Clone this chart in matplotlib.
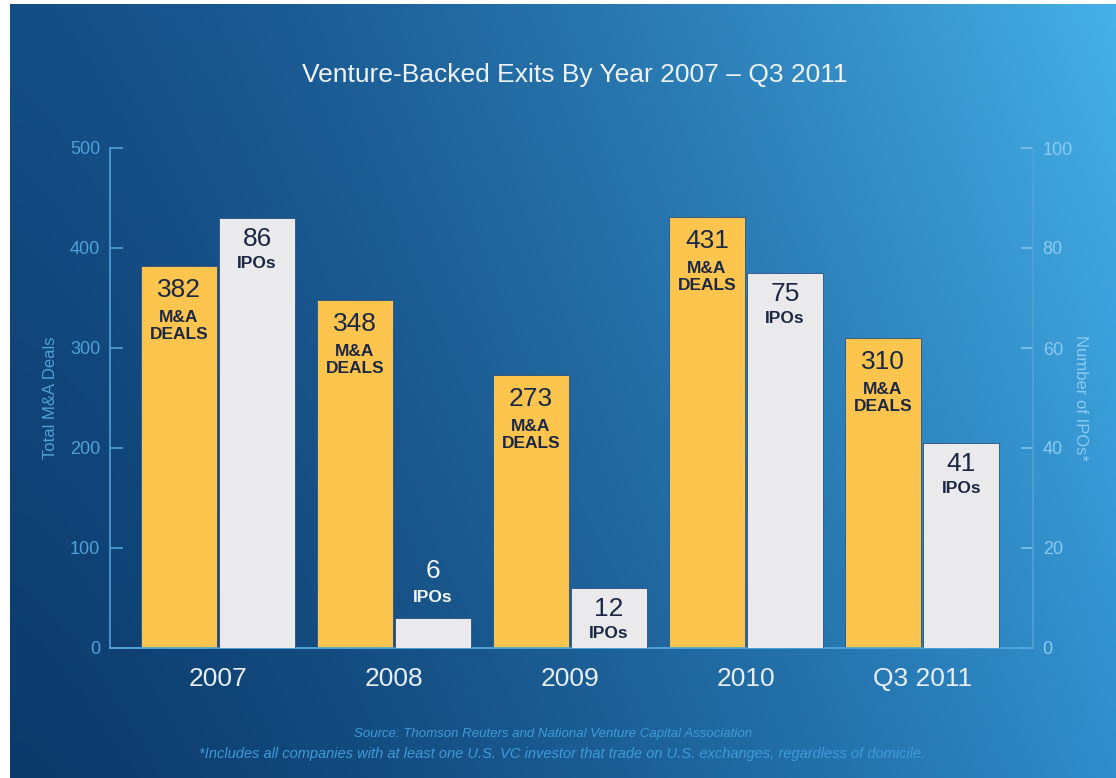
import numpy as np
import matplotlib
matplotlib.use("Agg")
import matplotlib.pyplot as plt
from matplotlib.colors import to_rgb

plt.rcParams['font.family'] = ['Liberation Sans', 'DejaVu Sans']

# data
years = ['2007', '2008', '2009', '2010', 'Q3 2011']
mna_deals = [382, 348, 273, 431, 310]
ipos = [86, 6, 12, 75, 41]

yellow = '#FDC54E'
grey = '#EAEAEC'
dark_txt = '#1C2843'
axis_col = '#4FA2D8'

fig = plt.figure(figsize=(11.16, 7.78), dpi=100)

# background gradient (dark navy at left/bottom, light blue at top right)
bg = fig.add_axes([10 / 1116, 0, 1 - 10 / 1116, 1 - 4 / 778])
bg.set_axis_off()
nx, ny = 400, 200
gx = np.linspace(0, 1, nx) ** 1.4
gy = np.linspace(0, 1, ny)[:, None]
tl, tr = np.array(to_rgb('#154E87')), np.array(to_rgb('#46B0E8'))
bl, br = np.array(to_rgb('#0C3A6B')), np.array(to_rgb('#2F8DCB'))
top = tl[None, :] * (1 - gx[:, None]) + tr[None, :] * gx[:, None]
bot = bl[None, :] * (1 - gx[:, None]) + br[None, :] * gx[:, None]
img = top[None, :, :] * (1 - gy[..., None]) + bot[None, :, :] * gy[..., None]
bg.imshow(img, aspect='auto', extent=[0, 1, 0, 1], origin='upper')

ax = fig.add_axes([110 / 1116, 1 - 648 / 778, 923 / 1116, 500 / 778])
ax.set_facecolor('none')
ax2 = ax.twinx()
ax2.set_facecolor('none')

x = np.arange(len(years))
w = 0.435
off = 0.222
ax.bar(x - off, mna_deals, w, color=yellow, edgecolor='#2A4F7A', linewidth=0.6, zorder=3)
ax2.bar(x + off, ipos, w, color=grey, edgecolor='#2A4F7A', linewidth=0.6, zorder=3)

ax.set_xlim(-0.614, 4.63)
ax.set_ylim(0, 500)
ax2.set_ylim(0, 100)
ax.set_yticks(range(0, 501, 100))
ax2.set_yticks(range(0, 101, 20))

for a in (ax, ax2):
    for s in a.spines.values():
        s.set_color(axis_col)
        s.set_linewidth(1.2)
    a.spines['top'].set_visible(False)
    a.tick_params(axis='y', direction='in', length=9, width=1.2, color=axis_col,
                  labelcolor=axis_col, labelsize=13, pad=7)
ax.spines['right'].set_visible(False)
ax2.spines['left'].set_visible(False)
ax2.tick_params(axis='y', labelcolor='#8CCBF0', color='#7FC2EC')

ax.set_xticks(x)
ax.set_xticklabels(years)
ax.tick_params(axis='x', length=0, labelsize=19, labelcolor='#E8EEF6', pad=14)

ax.set_ylabel('Total M&A Deals', color=axis_col, fontsize=12, labelpad=9)
ax2.set_ylabel('Number of IPOs*', color='#8CCBF0', fontsize=12, rotation=270, labelpad=11)

# labels on the bars
for i in range(len(years)):
    ax.annotate(str(mna_deals[i]), (x[i] - off, mna_deals[i]), xytext=(0, -17),
                textcoords='offset points', ha='center', va='center',
                fontsize=19, color=dark_txt, zorder=5)
    ax.annotate('M&A\nDEALS', (x[i] - off, mna_deals[i]), xytext=(0, -43),
                textcoords='offset points', ha='center', va='center',
                fontsize=12.5, fontweight='bold', color=dark_txt, linespacing=1.2, zorder=5)
    if ipos[i] < 10:
        c, d1, d2 = '#F2F5FA', 34, 15
    else:
        c, d1, d2 = dark_txt, -15, -33
    ax2.annotate(str(ipos[i]), (x[i] + off, ipos[i]), xytext=(0, d1),
                 textcoords='offset points', ha='center', va='center',
                 fontsize=19, color=c, zorder=5)
    ax2.annotate('IPOs', (x[i] + off, ipos[i]), xytext=(0, d2),
                 textcoords='offset points', ha='center', va='center',
                 fontsize=12.5, fontweight='bold', color=c, zorder=5)

fig.text(0.515, 1 - 75 / 778, 'Venture-Backed Exits By Year 2007 \u2013 Q3 2011',
         ha='center', va='center', fontsize=19, color='#EEF3F9')
fig.text(0.496, 1 - 734 / 778, 'Source: Thomson Reuters and National Venture Capital Association',
         ha='center', va='center', fontsize=9.5, style='italic', color='#3E9BD9')
fig.text(0.504, 1 - 754 / 778,
         '*Includes all companies with at least one U.S. VC investor that trade on U.S. exchanges, regardless of domicile.',
         ha='center', va='center', fontsize=10.5, style='italic', color='#3E9BD9')

fig.savefig('out.png', dpi=100)
